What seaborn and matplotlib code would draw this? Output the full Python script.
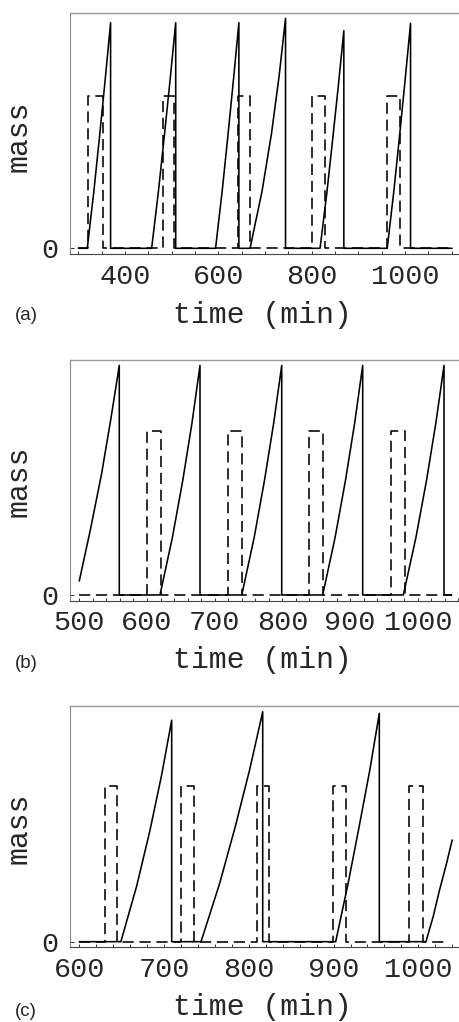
import numpy as np
import pandas as pd
import matplotlib
matplotlib.use("Agg")
import matplotlib.pyplot as plt
from matplotlib.ticker import MultipleLocator, FixedLocator
import seaborn as sns

# ---------------- data ----------------
# panel (a): growth ramps (time, mass) from start to peak, then drop to 0
a_t0, a_t1 = 300, 1101
a_ramp_t = [[319, 333, 345.5, 357.5, 369],
            [457, 471.4, 484.3, 496.7, 508.6],
            [594, 608, 620.5, 632.5, 644],
            [668, 693.8, 714, 730.3, 744],
            [818, 832.3, 845, 857.3, 869],
            [962, 976, 988.5, 1000.5, 1012]]
a_ramp_m = [[0, 0.37, 0.74, 1.11, 1.481],
            [0, 0.37, 0.74, 1.11, 1.481],
            [0, 0.37, 0.74, 1.11, 1.481],
            [0, 0.3775, 0.755, 1.1325, 1.510],
            [0, 0.357, 0.714, 1.07, 1.429],
            [0, 0.37, 0.74, 1.11, 1.477]]
a_drop = [True, True, True, True, True, True]
a_on = [321, 481, 643, 800, 960.7]
a_off = [352, 504, 668, 828.6, 989.3]
a_major = [400, 600, 800, 1000]

# panel (b)
b_t0, b_t1 = 500, 1050
b_ramp_t = [[500, 516.5, 533, 546.5, 559.1],
            [619.2, 637.5, 652.9, 666.5, 678.3],
            [740, 758.3, 773.6, 787.2, 799],
            [859.5, 877.8, 893.2, 906.8, 918.6],
            [978.6, 997.2, 1012.9, 1026.7, 1038.7]]
b_ramp_m = [[0.085, 0.40, 0.74, 1.07, 1.40],
            [0, 0.35, 0.70, 1.05, 1.40],
            [0, 0.35, 0.70, 1.05, 1.40],
            [0, 0.35, 0.70, 1.05, 1.40],
            [0, 0.35, 0.70, 1.05, 1.40]]
b_drop = [True, True, True, True, True]
b_on = [599.5, 720, 839.7, 960.4]
b_off = [620.7, 740, 859.5, 981]
b_major = [500, 600, 700, 800, 900, 1000]

# panel (c)
c_t0, c_t1 = 600, 1040
c_ramp_t = [[649, 667.6, 683.2, 697, 709],
            [743.6, 765.4, 784, 801.1, 816.4],
            [902.5, 916.9, 930, 942.7, 954],
            [1009, 1017.5, 1025, 1032.8, 1040]]
c_ramp_m = [[0, 0.355, 0.71, 1.065, 1.42],
            [0, 0.37, 0.737, 1.105, 1.474],
            [0, 0.366, 0.732, 1.098, 1.464],
            [0, 0.16, 0.33, 0.49, 0.652]]
c_drop = [True, True, True, False]
c_on = [630.3, 720, 810, 899.7, 989.4]
c_off = [644.9, 735.3, 824.2, 914.3, 1005.2]
c_dash_end = 1036
c_major = [600, 700, 800, 900, 1000]

pulse_height = 1.0
y_ticks = [0]
y_ticklabels = ["0"]
panel_labels = ["(a)", "(b)", "(c)"]
xlabel = "time (min)"
ylabel = "mass"


def solid_frame(t0, t1, ramp_t, ramp_m, drop):
    ts, ms = [], []
    if ramp_t[0][0] > t0:
        ts.append(t0); ms.append(0.0)
    for rt, rm, d in zip(ramp_t, ramp_m, drop):
        if rm[0] > 0 and ts:
            ts.append(rt[0]); ms.append(0.0)
        ts += list(rt)
        ms += list(rm)
        if d:
            ts.append(rt[-1]); ms.append(0.0)
    if ms[-1] == 0.0 and ts[-1] < t1:
        ts.append(t1); ms.append(0.0)
    return pd.DataFrame({"t": ts, "m": ms})


def dashed_frame(t0, t1, on, off, h):
    ts, ms = [t0], [0.0]
    for a, b in zip(on, off):
        ts += [a, a, b, b]
        ms += [0.0, h, h, 0.0]
    ts.append(t1); ms.append(0.0)
    return pd.DataFrame({"t": ts, "m": ms})


panels = [
    dict(solid=solid_frame(a_t0, a_t1, a_ramp_t, a_ramp_m, a_drop),
         dashed=dashed_frame(a_t0, a_t1, a_on, a_off, pulse_height),
         xlim=(282, 1118), ylim=(-0.0374, 1.543), major=a_major, minor=50,
         rect=[70, 13.3, 460, 254], xl_y=315, ml_y=136, lab_y=315),
    dict(solid=solid_frame(b_t0, b_t1, b_ramp_t, b_ramp_m, b_drop),
         dashed=dashed_frame(b_t0, b_t1, b_on, b_off, pulse_height),
         xlim=(486.3, 1062.3), ylim=(-0.035, 1.433), major=b_major, minor=20,
         rect=[70, 360, 460, 600.7], xl_y=660, ml_y=481.7, lab_y=664),
    dict(solid=solid_frame(c_t0, c_t1, c_ramp_t, c_ramp_m, c_drop),
         dashed=dashed_frame(c_t0, c_dash_end, c_on, c_off, pulse_height),
         xlim=(589, 1049.2), ylim=(-0.036, 1.511), major=c_major, minor=20,
         rect=[70, 706, 460, 947.3], xl_y=1006.7, ml_y=828.3, lab_y=1011.7),
]

sns.set_style("ticks")
plt.rcParams["font.family"] = ["Liberation Mono", "DejaVu Sans Mono"]

W, H = 460, 1022
fig = plt.figure(figsize=(W / 100, H / 100), dpi=100)

for i, p in enumerate(panels):
    x0, ytop, x1, ybot = p["rect"]
    ax = fig.add_axes([x0 / W, 1 - ybot / H, (x1 - x0) / W, (ybot - ytop) / H])
    sns.lineplot(data=p["dashed"], x="t", y="m", sort=False, estimator=None,
                 color="black", linewidth=1.15, linestyle=(0, (7, 3.6)), ax=ax)
    sns.lineplot(data=p["solid"], x="t", y="m", sort=False, estimator=None,
                 color="black", linewidth=1.15, ax=ax)
    ax.set_xlim(*p["xlim"])
    ax.set_ylim(*p["ylim"])
    ax.xaxis.set_major_locator(FixedLocator(p["major"]))
    ax.xaxis.set_minor_locator(MultipleLocator(p["minor"]))
    ax.set_yticks(y_ticks)
    ax.set_yticklabels(y_ticklabels)
    ax.tick_params(axis="x", which="both", direction="in", length=2.5, width=0.7,
                   color="#333333", labelsize=20.5, pad=7, bottom=True, top=False)
    ax.tick_params(axis="y", which="both", direction="in", length=3, width=0.7,
                   color="#333333", labelsize=20.5, pad=8.5, left=True, right=False)
    ax.spines["right"].set_visible(False)
    ax.spines["top"].set_color("#999999")
    ax.spines["top"].set_linewidth(1.0)
    ax.spines["left"].set_color("#888888")
    ax.spines["left"].set_linewidth(0.8)
    ax.spines["bottom"].set_color("#444444")
    ax.spines["bottom"].set_linewidth(0.8)
    h = ybot - ytop
    ax.set_xlabel(xlabel, fontsize=21.5, va="center", ha="center")
    ax.xaxis.set_label_coords((262.5 - x0) / (x1 - x0), (ybot - p["xl_y"]) / h)
    ax.set_ylabel(ylabel, fontsize=21.5, va="center", ha="center")
    ax.yaxis.set_label_coords((19 - x0) / (x1 - x0), (ybot - p["ml_y"]) / h)
    fig.text(15 / W, 1 - p["lab_y"] / H, panel_labels[i], family="Liberation Sans",
             fontsize=13.5, ha="left", va="center")

fig.savefig("out.png", dpi=100)
